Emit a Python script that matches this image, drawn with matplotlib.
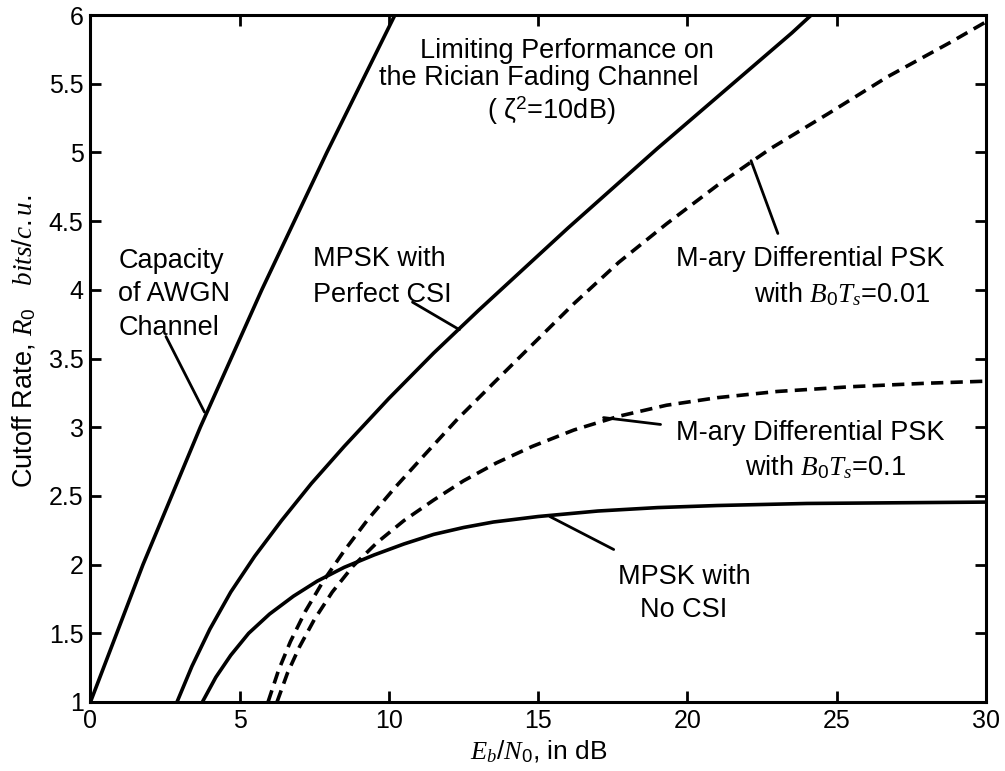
import matplotlib
matplotlib.use("Agg")
import matplotlib.pyplot as plt

plt.rcParams['font.family'] = ['Liberation Sans', 'DejaVu Sans']
plt.rcParams['mathtext.fontset'] = 'custom'
plt.rcParams['mathtext.it'] = 'Liberation Serif:italic'
plt.rcParams['mathtext.rm'] = 'Liberation Sans'

# Eb/N0 (dB) vs cutoff rate R0 (bits/c.u.)
awgn_x = [0, 1.76, 3.68, 5.74, 7.92, 10.2]
awgn_y = [1.0, 2.0, 3.0, 4.0, 5.0, 6.0]

csi_x = [2.9, 3.4, 4.0, 4.7, 5.5, 6.4, 7.4, 8.5, 10.0, 11.5, 13.0, 14.5,
         16.0, 17.5, 19.0, 20.5, 22.0, 23.5, 24.15]
csi_y = [1.0, 1.26, 1.53, 1.80, 2.06, 2.32, 2.59, 2.86, 3.21, 3.54, 3.85, 4.15,
         4.45, 4.74, 5.03, 5.31, 5.59, 5.87, 6.0]

nocsi_x = [3.75, 4.2, 4.7, 5.3, 6.0, 6.8, 7.6, 8.5, 9.5, 10.5, 11.5, 12.5,
           13.5, 15.0, 17.0, 19.0, 21.0, 24.0, 27.0, 30.0]
nocsi_y = [1.0, 1.18, 1.34, 1.50, 1.64, 1.77, 1.88, 1.98, 2.07, 2.15, 2.22, 2.27,
           2.31, 2.35, 2.39, 2.415, 2.43, 2.445, 2.45, 2.455]

dpsk001_x = [5.95, 6.3, 6.7, 7.2, 7.8, 8.5, 9.3, 10.2, 11.2, 12.3, 13.5, 14.8,
             16.2, 17.7, 19.3, 21.0, 22.8, 24.7, 26.7, 28.8, 30.0]
dpsk001_y = [1.0, 1.23, 1.44, 1.66, 1.88, 2.10, 2.33, 2.56, 2.80, 3.06, 3.32, 3.60,
             3.90, 4.20, 4.48, 4.76, 5.03, 5.28, 5.55, 5.80, 5.95]

dpsk01_x = [6.25, 6.6, 7.0, 7.5, 8.1, 8.8, 9.6, 10.5, 11.5, 12.5, 13.6, 14.8,
            16.2, 17.7, 19.3, 21.0, 23.0, 25.5, 28.0, 30.0]
dpsk01_y = [1.0, 1.21, 1.40, 1.60, 1.80, 1.99, 2.16, 2.32, 2.47, 2.61, 2.74, 2.86,
            2.98, 3.08, 3.16, 3.215, 3.26, 3.295, 3.32, 3.335]

xticks = [0, 5, 10, 15, 20, 25, 30]
yticks = [1, 1.5, 2, 2.5, 3, 3.5, 4, 4.5, 5, 5.5, 6]
ytick_labels = ['1', '1.5', '2', '2.5', '3', '3.5', '4', '4.5', '5', '5.5', '6']

fig = plt.figure(figsize=(10.05, 7.71), dpi=100)
ax = fig.add_axes([0.090, 0.0895, 0.891, 0.891])

lw = 2.6
dash = (3.4, 2.0)
ax.plot(awgn_x, awgn_y, color='black', lw=lw)
ax.plot(csi_x, csi_y, color='black', lw=lw)
ax.plot(nocsi_x, nocsi_y, color='black', lw=lw)
ax.plot(dpsk001_x, dpsk001_y, color='black', lw=lw, dashes=dash)
ax.plot(dpsk01_x, dpsk01_y, color='black', lw=lw, dashes=dash)

ax.set_xlim(0, 30)
ax.set_ylim(1, 6)
ax.set_xticks(xticks)
ax.set_yticks(yticks)
ax.set_yticklabels(ytick_labels)
ax.tick_params(direction='in', length=8, width=2, labelsize=18,
               top=True, right=True, pad=5)
for s in ax.spines.values():
    s.set_linewidth(2.2)

ax.set_xlabel(r'$E_b/N_0$, in dB', fontsize=19, labelpad=4)
ax.set_ylabel(r'Cutoff Rate, $R_0$   $bits/c.u.$', fontsize=19.5)
ax.yaxis.set_label_coords(-0.059, 0.525)

fs = 19.5
# pointer lines from the labels to the curves
ptr = dict(arrowstyle='-', color='black', lw=2.0, shrinkA=0, shrinkB=0)
ax.annotate('', xy=(3.82, 3.11), xytext=(2.53, 3.66), arrowprops=ptr)
ax.annotate('', xy=(12.36, 3.71), xytext=(10.79, 3.91), arrowprops=ptr)
ax.annotate('', xy=(22.13, 4.94), xytext=(23.03, 4.41), arrowprops=ptr)
ax.annotate('', xy=(17.19, 3.07), xytext=(19.10, 3.02), arrowprops=ptr)
ax.annotate('', xy=(15.39, 2.35), xytext=(17.53, 2.11), arrowprops=ptr)

ax.text(0.93, 4.16, 'Capacity', fontsize=fs, ha='left', va='baseline')
ax.text(0.93, 3.92, 'of AWGN', fontsize=fs, ha='left', va='baseline')
ax.text(0.93, 3.67, 'Channel', fontsize=fs, ha='left', va='baseline')

ax.text(7.45, 4.17, 'MPSK with', fontsize=fs, ha='left', va='baseline')
ax.text(7.45, 3.91, 'Perfect CSI', fontsize=fs, ha='left', va='baseline')

ax.text(15.95, 5.69, 'Limiting Performance on', fontsize=fs, ha='center', va='baseline')
ax.text(15.03, 5.49, 'the Rician Fading Channel', fontsize=fs, ha='center', va='baseline')
ax.text(15.44, 5.24, '( ζ$^{2}$=10dB)', fontsize=fs, ha='center', va='baseline')

ax.text(24.13, 4.17, 'M-ary Differential PSK', fontsize=fs, ha='center', va='baseline')
ax.text(25.19, 3.91, r'with $B_0T_s$=0.01', fontsize=fs, ha='center', va='baseline')

ax.text(24.13, 2.91, 'M-ary Differential PSK', fontsize=fs, ha='center', va='baseline')
ax.text(24.64, 2.65, r'with $B_0T_s$=0.1', fontsize=fs, ha='center', va='baseline')

ax.text(19.88, 1.86, 'MPSK with', fontsize=fs, ha='center', va='baseline')
ax.text(19.88, 1.62, 'No CSI', fontsize=fs, ha='center', va='baseline')

fig.savefig('out.png', dpi=100)
